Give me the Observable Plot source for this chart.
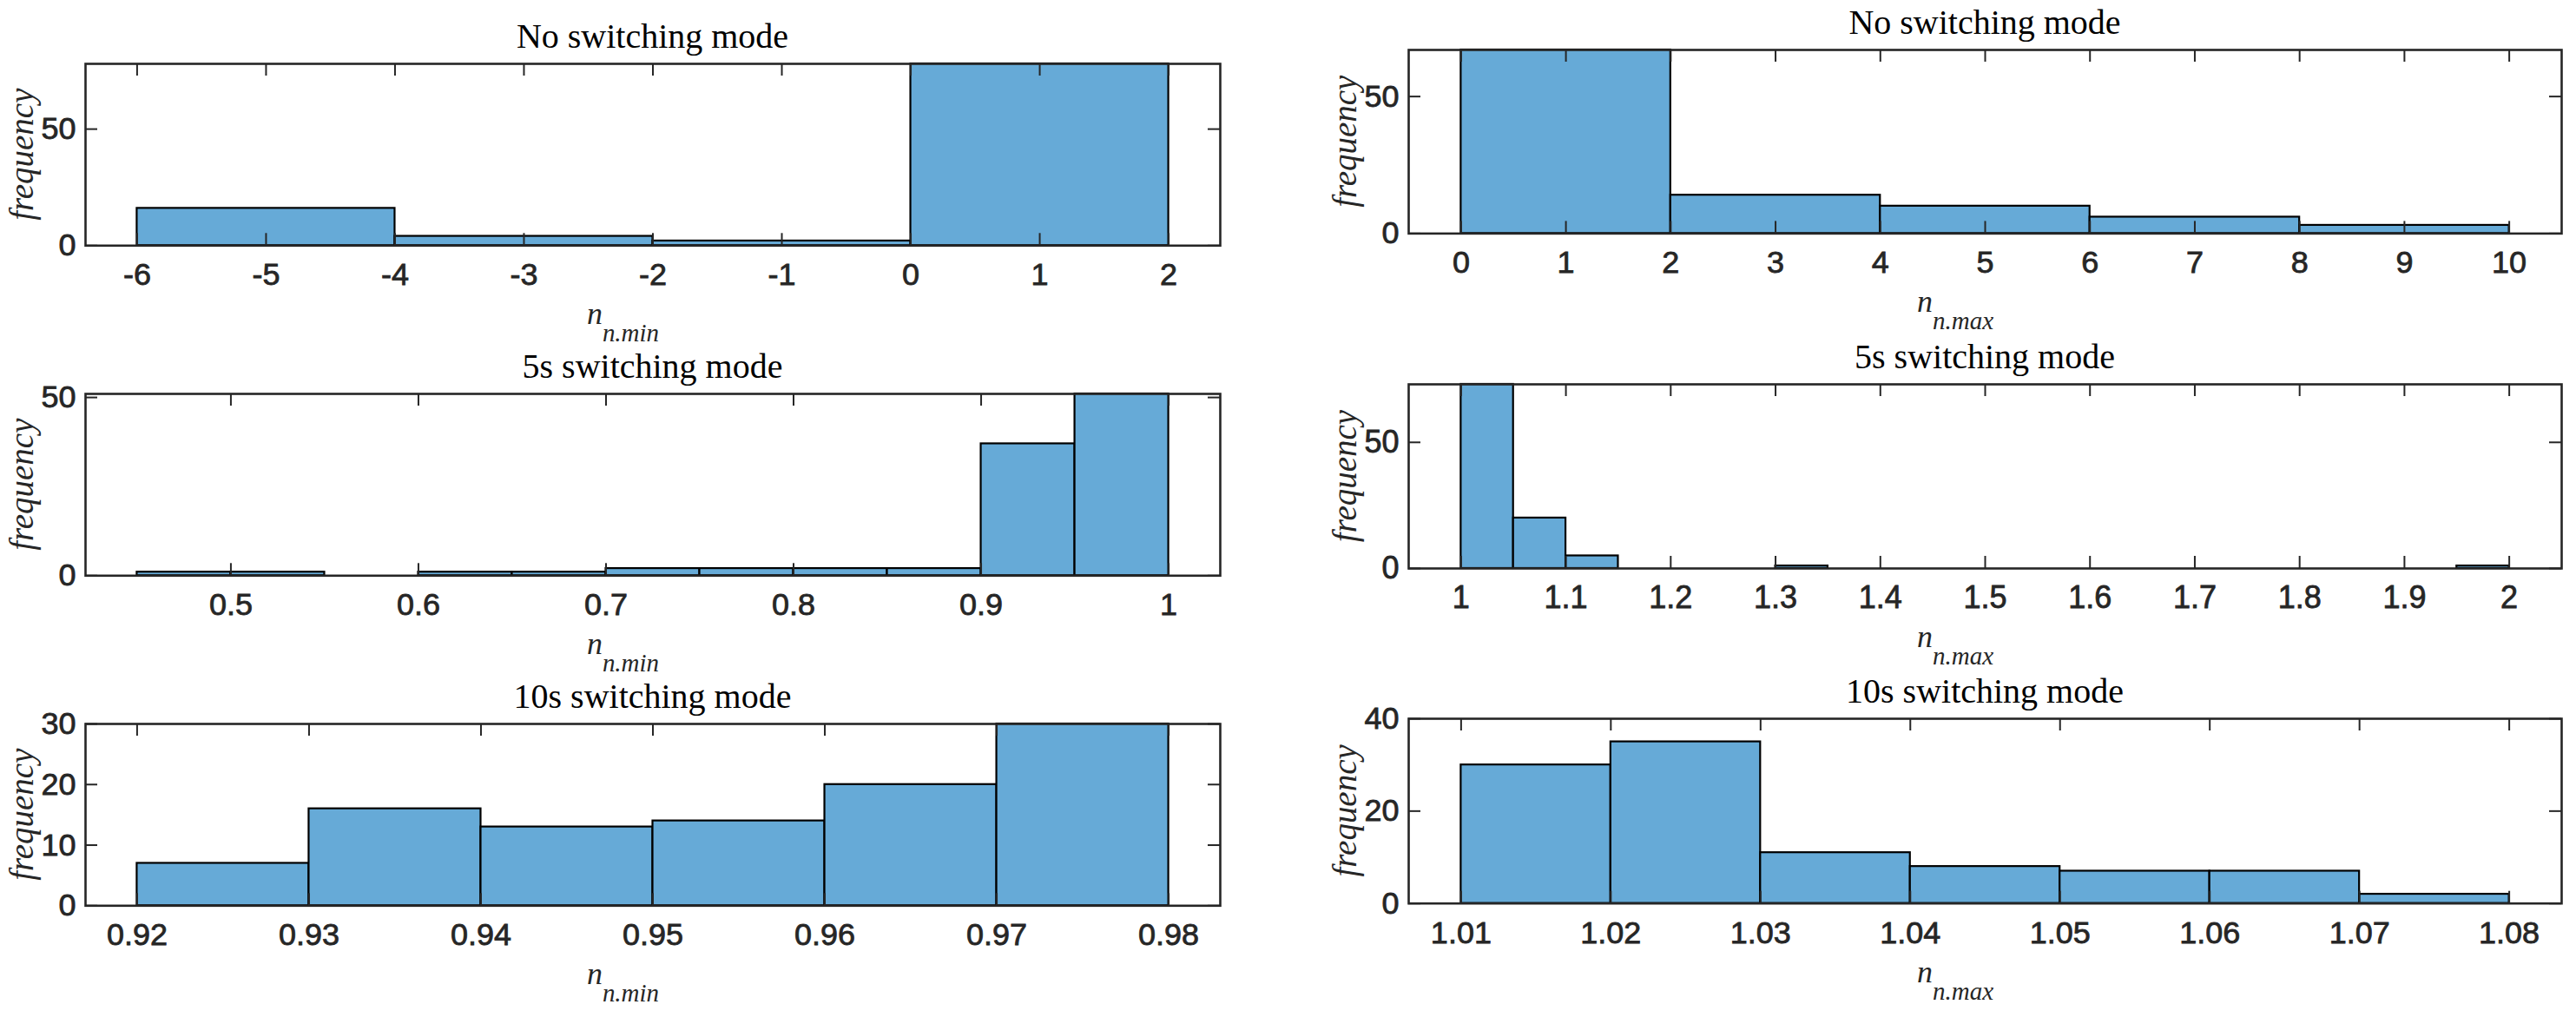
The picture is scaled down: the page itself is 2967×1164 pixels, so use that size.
<!DOCTYPE html>
<html>
<head>
<meta charset="utf-8">
<script src="https://cdn.jsdelivr.net/npm/d3@7"></script>
<script src="https://cdn.jsdelivr.net/npm/@observablehq/plot@0.6"></script>
<style>
  html, body { margin: 0; padding: 0; background: #fff; }
  #root { position: relative; width: 2967px; height: 1164px; overflow: hidden; background: #fff; }
  #root svg { position: absolute; }
</style>
</head>
<body>
<div id="root"></div>
<script>
// ---------- titles / labels ----------
const rowTitles = ["No switching mode", "5s switching mode", "10s switching mode"];
const yLabelText = "frequency";
const xLabelMain = "n";
const xSubMin = "n.min";
const xSubMax = "n.max";

// ---------- No switching mode ----------
const noSwMinEdges  = [-6, -4, -2, 0, 2];
const noSwMinCounts = [16, 4, 2, 78];
const noSwMinXTicks = [-6, -5, -4, -3, -2, -1, 0, 1, 2];
const noSwMinYTicks = [0, 50];

const noSwMaxEdges  = [0, 2, 4, 6, 8, 10];
const noSwMaxCounts = [67, 14, 10, 6, 3];
const noSwMaxXTicks = [0, 1, 2, 3, 4, 5, 6, 7, 8, 9, 10];
const noSwMaxYTicks = [0, 50];

// ---------- 5s switching mode ----------
const s5MinEdges  = [0.45, 0.50, 0.55, 0.60, 0.65, 0.70, 0.75, 0.80, 0.85, 0.90, 0.95, 1.00];
const s5MinCounts = [1, 1, 0, 1, 1, 2, 2, 2, 2, 37, 51];
const s5MinXTicks = [0.5, 0.6, 0.7, 0.8, 0.9, 1];
const s5MinYTicks = [0, 50];

const s5MaxEdges  = [1.00, 1.05, 1.10, 1.15, 1.20, 1.25, 1.30, 1.35, 1.40, 1.45, 1.50,
                     1.55, 1.60, 1.65, 1.70, 1.75, 1.80, 1.85, 1.90, 1.95, 2.00];
const s5MaxCounts = [73, 20, 5, 0, 0, 0, 1, 0, 0, 0, 0, 0, 0, 0, 0, 0, 0, 0, 0, 1];
const s5MaxXTicks = [1, 1.1, 1.2, 1.3, 1.4, 1.5, 1.6, 1.7, 1.8, 1.9, 2];
const s5MaxYTicks = [0, 50];

// ---------- 10s switching mode ----------
const s10MinEdges  = [0.92, 0.93, 0.94, 0.95, 0.96, 0.97, 0.98];
const s10MinCounts = [7, 16, 13, 14, 20, 30];
const s10MinXTicks = [0.92, 0.93, 0.94, 0.95, 0.96, 0.97, 0.98];
const s10MinYTicks = [0, 10, 20, 30];

const s10MaxEdges  = [1.01, 1.02, 1.03, 1.04, 1.05, 1.06, 1.07, 1.08];
const s10MaxCounts = [30, 35, 11, 8, 7, 7, 2];
const s10MaxXTicks = [1.01, 1.02, 1.03, 1.04, 1.05, 1.06, 1.07, 1.08];
const s10MaxYTicks = [0, 20, 40];

// ---------- axis limits ----------
const xDomains = [[-6.4, 2.4], [-0.5, 10.5], [0.4225, 1.0275], [0.95, 2.05], [0.917, 0.983], [1.0065, 1.0835]];
const yDomains = [[0, 78], [0, 67], [0, 51], [0, 73], [0, 30], [0, 40]];

// ---------- layout (frame boxes in page pixels) ----------
const frames = [
  {left: 98,   top: 72.7,  width: 1307, height: 209.3},
  {left: 1622, top: 57.3,  width: 1328, height: 211.4},
  {left: 98,   top: 452.7, width: 1307, height: 209.3},
  {left: 1622, top: 442,   width: 1328, height: 212},
  {left: 98,   top: 832.7, width: 1307, height: 209.3},
  {left: 1622, top: 827.3, width: 1328, height: 212.7}
];

const panels = [
  {edges: noSwMinEdges, counts: noSwMinCounts, xt: noSwMinXTicks, yt: noSwMinYTicks, title: rowTitles[0], sub: xSubMin},
  {edges: noSwMaxEdges, counts: noSwMaxCounts, xt: noSwMaxXTicks, yt: noSwMaxYTicks, title: rowTitles[0], sub: xSubMax},
  {edges: s5MinEdges,   counts: s5MinCounts,   xt: s5MinXTicks,   yt: s5MinYTicks,   title: rowTitles[1], sub: xSubMin},
  {edges: s5MaxEdges,   counts: s5MaxCounts,   xt: s5MaxXTicks,   yt: s5MaxYTicks,   title: rowTitles[1], sub: xSubMax},
  {edges: s10MinEdges,  counts: s10MinCounts,  xt: s10MinXTicks,  yt: s10MinYTicks,  title: rowTitles[2], sub: xSubMin},
  {edges: s10MaxEdges,  counts: s10MaxCounts,  xt: s10MaxXTicks,  yt: s10MaxYTicks,  title: rowTitles[2], sub: xSubMax}
];

const FILL = "#66AAD7";
const AXIS = "#262626";
const SANS = "'Liberation Sans', Arial, Helvetica, sans-serif";
const SERIF = "'Liberation Serif', 'Times New Roman', serif";
const mL = 98, mR = 17, mT = 70, mB = 130;
const TICK = 14;
const fmt = d => String(d);

const root = document.getElementById("root");

panels.forEach((p, i) => {
  const f = frames[i];
  const fw = f.width, fh = f.height;
  const bins = p.counts
    .map((c, k) => ({x1: p.edges[k], x2: p.edges[k + 1], count: c}))
    .filter(d => d.count > 0);

  const svg = Plot.plot({
    width: fw + mL + mR,
    height: fh + mT + mB,
    marginLeft: mL, marginRight: mR, marginTop: mT, marginBottom: mB,
    x: {domain: xDomains[i], label: null},
    y: {domain: yDomains[i], label: null},
    style: {background: "transparent", fontFamily: SANS, fontSize: "36px", color: AXIS, overflow: "visible"},
    marks: [
      Plot.rectY(bins, {x1: "x1", x2: "x2", y: "count", fill: FILL, stroke: "#000", strokeWidth: 2.2}),
      Plot.tickX(p.xt, {x: d => d, insetTop: fh - TICK, stroke: AXIS, strokeWidth: 2}),
      Plot.tickX(p.xt, {x: d => d, insetBottom: fh - TICK, stroke: AXIS, strokeWidth: 2}),
      Plot.tickY(p.yt, {y: d => d, insetRight: fw - TICK, stroke: AXIS, strokeWidth: 2}),
      Plot.tickY(p.yt, {y: d => d, insetLeft: fw - TICK, stroke: AXIS, strokeWidth: 2}),
      Plot.axisX({ticks: p.xt, tickSize: 0, tickPadding: 20, tickFormat: fmt, label: null, fill: AXIS}),
      Plot.axisY({ticks: p.yt, tickSize: 0, tickPadding: 11, tickFormat: fmt, label: null, fill: AXIS}),
      Plot.frame({stroke: AXIS, strokeWidth: 2.6})
    ]
  });

  svg.style.left = (f.left - mL) + "px";
  svg.style.top = (f.top - mT) + "px";

  const s = d3.select(svg);
  // slightly heavier tick labels, like the reference rendering
  s.selectAll('g[aria-label="x-axis tick label"] text, g[aria-label="y-axis tick label"] text')
    .attr("stroke", AXIS)
    .attr("stroke-width", 0.8);
  // title
  s.append("text")
    .attr("x", mL + fw / 2)
    .attr("y", mT - 18)
    .attr("text-anchor", "middle")
    .attr("font-family", SERIF)
    .attr("font-size", 40)
    .attr("fill", "#000")
    .text(p.title);
  // y label
  s.append("text")
    .attr("transform", `translate(${mL - 60},${mT + fh / 2}) rotate(-90)`)
    .attr("text-anchor", "middle")
    .attr("font-family", SERIF)
    .attr("font-style", "italic")
    .attr("font-size", 39)
    .attr("fill", AXIS)
    .text(yLabelText);
  // x label with subscript
  const xl = s.append("text")
    .attr("x", mL + fw / 2 - 34)
    .attr("y", mT + fh + 91)
    .attr("font-family", SERIF)
    .attr("font-style", "italic")
    .attr("fill", AXIS);
  xl.append("tspan").attr("font-size", 36).text(xLabelMain);
  xl.append("tspan").attr("font-size", 29).attr("dy", 20).text(p.sub);

  root.appendChild(svg);
});
</script>
</body>
</html>
